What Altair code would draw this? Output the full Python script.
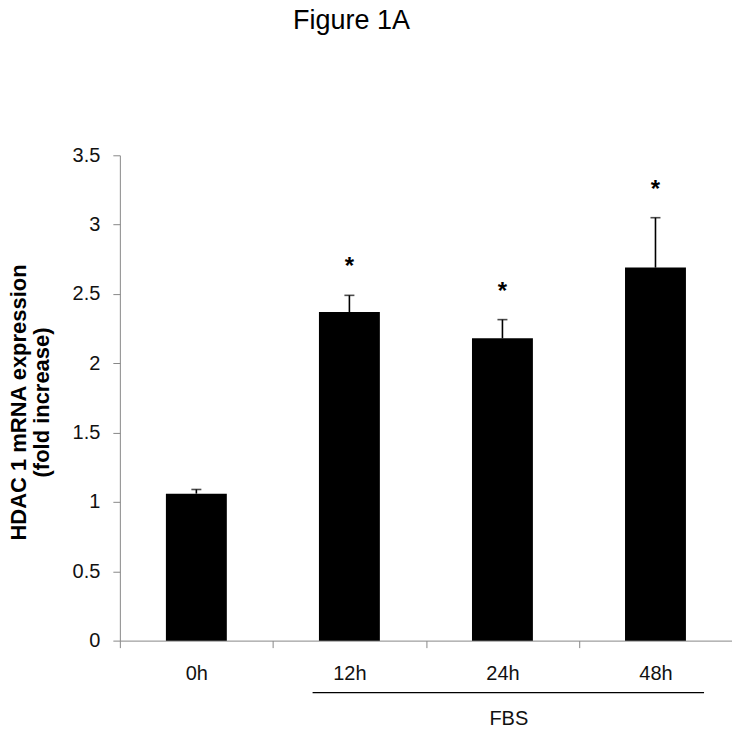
import altair as alt
import pandas as pd

times = ["0h", "12h", "24h", "48h"]
means = [1.06, 2.37, 2.18, 2.69]
err_hi = [1.09, 2.49, 2.315, 3.05]
stars = ["", "*", "*", "*"]
y_ticks = [0, 0.5, 1, 1.5, 2, 2.5, 3, 3.5]

df = pd.DataFrame({"time": times, "mean": means, "hi": err_hi, "star": stars})

FONT = "Liberation Sans"
W, H = 613, 486
X0, Y0 = 120, 155  # plot origin on the page

x = alt.X("time:N", sort=times,
          scale=alt.Scale(paddingInner=0, paddingOuter=0),
          axis=alt.Axis(title=None, labelAngle=0, labelFontSize=20, labelFont=FONT,
                        labelColor="#111", tickBand="extent", tickSize=7,
                        tickColor="#888", domainColor="#888", labelPadding=16,
                        labelBaseline="top"))
y = alt.Y("mean:Q", scale=alt.Scale(domain=[0, 3.5], nice=False, zero=True),
          axis=alt.Axis(values=y_ticks, format="~g", grid=False, tickSize=7,
                        tickColor="#888", domainColor="#888", labelFontSize=20,
                        labelFont=FONT, labelColor="#111", labelPadding=13,
                        title=["HDAC 1 mRNA expression", "(fold increase)"],
                        titleFont=FONT, titleFontSize=22, titleFontWeight="bold",
                        titleColor="#000", titleAngle=-90, titleX=19 - X0, titleY=247,
                        titleBaseline="middle", titleAlign="center", titleLineHeight=23))

base = alt.Chart(df)
bars = base.mark_bar(color="#000", size=61).encode(x=x, y=y)
err = base.mark_rule(color="#000", strokeWidth=1.6).encode(
    x=alt.X("time:N", sort=times), y="mean:Q", y2="hi:Q")
cap = base.mark_tick(color="#000", thickness=1.6, size=10, orient="horizontal").encode(
    x=alt.X("time:N", sort=times), y="hi:Q")
star_txt = base.mark_text(font=FONT, fontSize=24, fontWeight="bold", dy=-28,
                          baseline="middle", color="#000").encode(
    x=alt.X("time:N", sort=times), y="hi:Q", text="star:N")

title_txt = alt.Chart(pd.DataFrame({"t": ["Figure 1A"]})).mark_text(
    font=FONT, fontSize=27, color="#000", baseline="alphabetic", align="center").encode(
    x=alt.value(352 - X0), y=alt.value(29 - Y0), text="t:N")
fbs_line = alt.Chart(pd.DataFrame({"a": [0]})).mark_rule(color="#000", strokeWidth=1.3).encode(
    x=alt.value(313 - X0), x2=alt.value(705 - X0), y=alt.value(693 - Y0))
fbs_txt = alt.Chart(pd.DataFrame({"t": ["FBS"]})).mark_text(
    font=FONT, fontSize=20, color="#111", baseline="middle").encode(
    x=alt.value(509.5 - X0), y=alt.value(719 - Y0), text="t:N")

chart = alt.layer(bars, err, cap, star_txt, title_txt, fbs_line, fbs_txt).properties(
    width=W, height=H,
    autosize=alt.AutoSizeParams(type="none"),
    padding={"left": X0 - 8, "top": Y0 - 8, "right": 0, "bottom": 90},
).configure_view(stroke=None)

chart.save("out.html", embed_options={"renderer": "svg", "actions": False})
